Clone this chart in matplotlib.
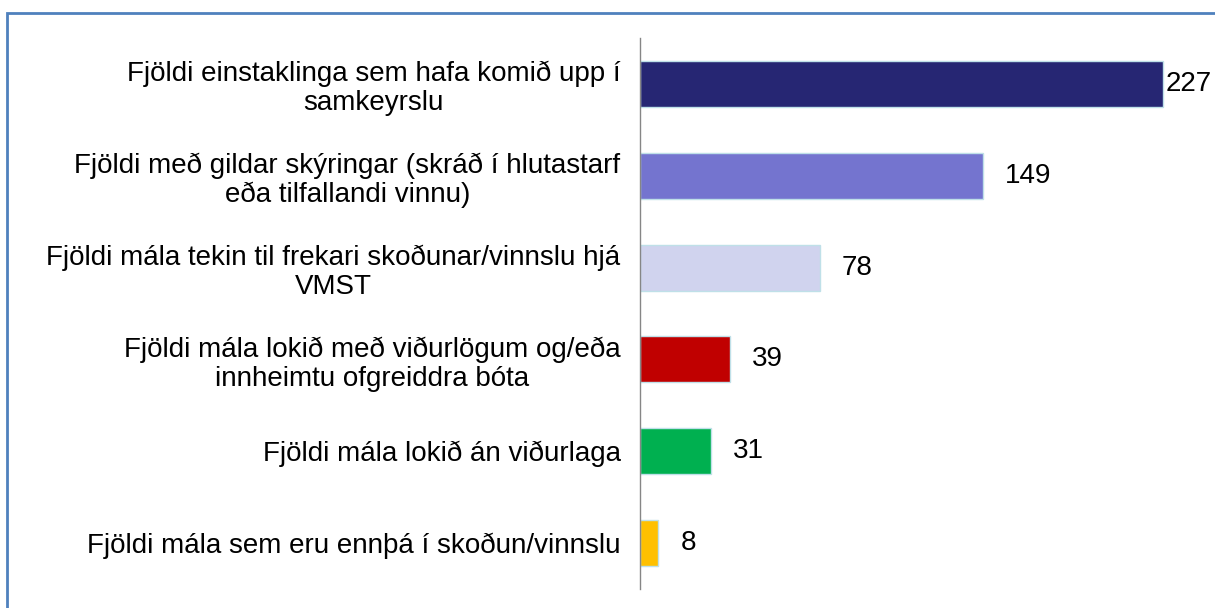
import matplotlib.pyplot as plt
from matplotlib.patches import Rectangle

plt.rcParams['font.family'] = ['Liberation Sans', 'DejaVu Sans']

categories = [
    "Fjöldi einstaklinga sem hafa komið upp í\nsamkeyrslu",
    "Fjöldi með gildar skýringar (skráð í hlutastarf\neða tilfallandi vinnu)",
    "Fjöldi mála tekin til frekari skoðunar/vinnslu hjá\nVMST",
    "Fjöldi mála lokið með viðurlögum og/eða\ninnheimtu ofgreiddra bóta",
    "Fjöldi mála lokið án viðurlaga",
    "Fjöldi mála sem eru ennþá í skoðun/vinnslu",
]
values = [227, 149, 78, 39, 31, 8]
colors = ['#262673', '#7474CF', '#D0D3EE', '#C00000', '#00B050', '#FFC000']

fig = plt.figure(figsize=(12.15, 6.08), dpi=100)
ax = fig.add_axes([640 / 1215, 19 / 608, 555 / 1215, 551 / 608])

y = list(range(len(values)))
ax.barh(y, values, height=0.5, color=colors, edgecolor='#BFE0E8', linewidth=1)

for i, v in enumerate(values):
    off = 3 if i == 0 else 22
    ax.annotate(str(v), (v, i), xytext=(off, 0), textcoords='offset pixels',
                ha='left', va='center', fontsize=20, color='black')

ax.set_yticks(y)
ax.set_yticklabels(categories, fontsize=20, multialignment='center',
                   linespacing=1.15)
ax.set_ylim(5.5, -0.5)
ax.set_xlim(0, 241)
ax.tick_params(axis='y', length=0, pad=14)
ax.set_xticks([])
for s in ['top', 'right', 'bottom']:
    ax.spines[s].set_visible(False)
ax.spines['left'].set_color('#868686')
ax.spines['left'].set_linewidth(1)

fig.patches.append(Rectangle((7 / 1215, -0.2), 1.2, 1.2 - 13 / 608,
                             transform=fig.transFigure, fill=False,
                             edgecolor='#4F81BD', linewidth=2))

fig.savefig('out.png', dpi=100)
